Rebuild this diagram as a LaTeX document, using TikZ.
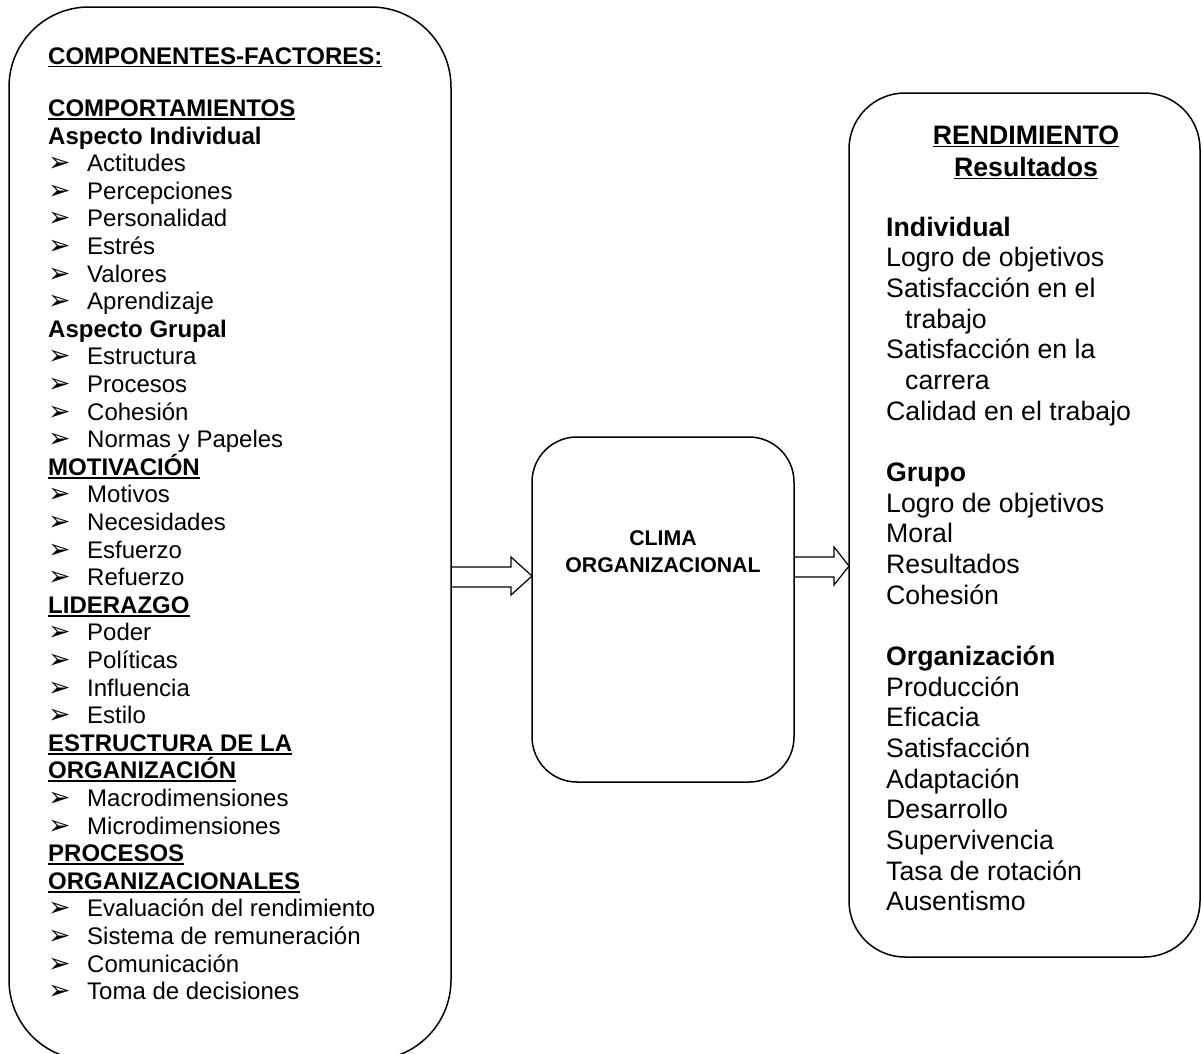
\documentclass[tikz,border=0pt]{standalone}
\usepackage{fontspec}
\setmainfont{Liberation Sans}
\newfontfamily\dvfont{DejaVu Sans}
\newcommand{\ulx}[1]{\setbox0\hbox{#1}\rlap{\rule[-3.2pt]{\wd0}{1.7pt}}\box0}
\newcommand{\bul}[1]{\makebox[39pt][l]{\dvfont\bfseries\scalebox{1.12}{➢}}#1}
\begin{document}
\begin{tikzpicture}[x=1pt,y=-1pt,
  box/.style={draw, line width=1.5pt, rounded corners=#1, inner sep=0pt, outer sep=0pt},
  blockarrow/.style={draw, line width=1.2pt, line join=miter},
  ltxt/.style={inner sep=0pt, anchor=base west, font=\fontsize{24}{27.6}\selectfont},
  rtxt/.style={inner sep=0pt, anchor=base west, font=\fontsize{26.7}{30.7}\selectfont},
  ctxt/.style={inner sep=0pt, anchor=base, font=\fontsize{21.3}{26}\selectfont\bfseries}]
\useasboundingbox (0,0) rectangle (1202,1053);

% boxes
\node[box=80pt, anchor=north west, minimum width=442pt, minimum height=1053pt] (L) at (9,7) {};
\node[box=45pt, anchor=north west, minimum width=262pt, minimum height=345pt] (C) at (532,437) {};
\node[box=56pt, anchor=north west, minimum width=351pt, minimum height=864pt] (R) at (849,93) {};

% block arrows
\coordinate (a1) at (451,567);
\coordinate (a2) at (532,576);
\draw[blockarrow] (a1) -- (511,567) -- (511,557) -- (a2) -- (511,595) -- (511,587) -- (451,587);
\coordinate (b1) at (794,557);
\coordinate (b2) at (849,566);
\draw[blockarrow] (b1) -- (834,557) -- (834,547) -- (b2) -- (834,585) -- (834,577) -- (794,577);

% left box text
\node[ltxt] (lt) at (48,64) {\ulx{\textbf{COMPONENTES-FACTORES:}}};
\foreach \t [count=\i from 0] in {
  \ulx{\textbf{COMPORTAMIENTOS}},
  \textbf{Aspecto Individual},
  \bul{Actitudes},
  \bul{Percepciones},
  \bul{Personalidad},
  \bul{Estrés},
  \bul{Valores},
  \bul{Aprendizaje},
  \textbf{Aspecto Grupal},
  \bul{Estructura},
  \bul{Procesos},
  \bul{Cohesión},
  \bul{Normas y Papeles},
  \ulx{\textbf{MOTIVACIÓN}},
  \bul{Motivos},
  \bul{Necesidades},
  \bul{Esfuerzo},
  \bul{Refuerzo},
  \ulx{\textbf{LIDERAZGO}},
  \bul{Poder},
  \bul{Políticas},
  \bul{Influencia},
  \bul{Estilo},
  \ulx{\textbf{ESTRUCTURA DE LA}},
  \ulx{\textbf{ORGANIZACIÓN}},
  \bul{Macrodimensiones},
  \bul{Microdimensiones},
  \ulx{\textbf{PROCESOS}},
  \ulx{\textbf{ORGANIZACIONALES}},
  \bul{Evaluación del rendimiento},
  \bul{Sistema de remuneración},
  \bul{Comunicación},
  \bul{Toma de decisiones}}
  \node[ltxt] (l\i) at (48,116.5+27.6*\i) {\t};

% center text
\node[ctxt] (c1) at (663,545) {CLIMA};
\node[ctxt] (c2) at (663,572) {ORGANIZACIONAL};

% right box text
\node[rtxt, anchor=base] (r1) at (1026,144) {\ulx{\textbf{RENDIMIENTO}}};
\node[rtxt, anchor=base] (r2) at (1026,176) {\ulx{\textbf{Resultados}}};
\foreach \t/\k in {
  \textbf{Individual}/0,
  Logro de objetivos/1,
  Satisfacción en el/2,
  \hspace{19pt}trabajo/3,
  Satisfacción en la/4,
  \hspace{19pt}carrera/5,
  Calidad en el trabajo/6,
  \textbf{Grupo}/8,
  Logro de objetivos/9,
  Moral/10,
  Resultados/11,
  Cohesión/12,
  \textbf{Organización}/14,
  Producción/15,
  Eficacia/16,
  Satisfacción/17,
  Adaptación/18,
  Desarrollo/19,
  Supervivencia/20,
  Tasa de rotación/21,
  Ausentismo/22}
  \node[rtxt] (rr\k) at (886,236+30.68*\k) {\t};
\end{tikzpicture}
\end{document}
